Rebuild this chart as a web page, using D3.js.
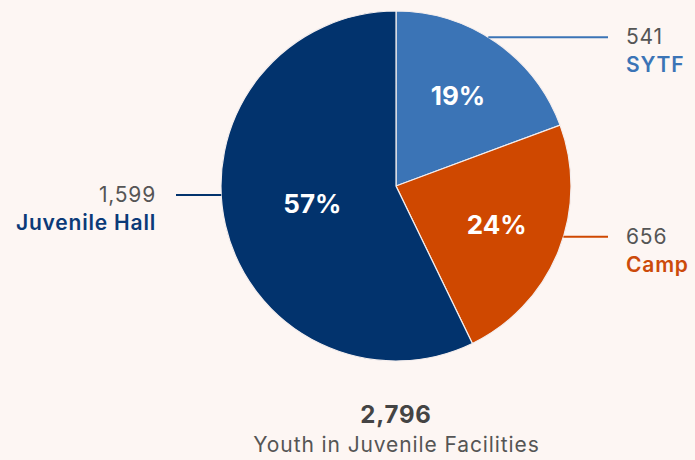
<html>
<script src="https://d3js.org/d3.v7.min.js"></script>
<style>
  body { margin: 0; background: #fdf6f3; }
  text { font-family: Inter, "Noto Sans", sans-serif; }
</style>
<body>
<svg id="chart" width="695" height="460"></svg>
<script>
// data
var categories = ["SYTF", "Camp", "Juvenile Hall"];
var counts = [541, 656, 1599];
var totalLabel = "Youth in Juvenile Facilities";

var colors = ["#3b74b6", "#cf4800", "#02336d"];
var textColors = ["#3b74b6", "#cc4a0a", "#0b3a78"];
// small angle nudges (degrees) for the callout lines
var calloutNudge = [-3, -5, 10];

var width = 695, height = 460;
var cx = 396, cy = 186, r = 175;
var svg = d3.select("#chart");

var total = d3.sum(counts);

// percentages with largest remainder rounding so they add to 100
var raw = counts.map(function(d){ return d / total * 100; });
var pct = raw.map(Math.floor);
var left = 100 - d3.sum(pct);
d3.range(raw.length).sort(function(a, b){ return (raw[b] - pct[b]) - (raw[a] - pct[a]); })
  .slice(0, left).forEach(function(i){ pct[i] += 1; });

var slices = d3.pie().sort(null).value(function(d){ return d; })(counts);
var arc = d3.arc().innerRadius(0).outerRadius(r);

var g = svg.append("g").attr("transform", "translate(" + cx + "," + cy + ")");

g.selectAll("path").data(slices).enter().append("path")
  .attr("d", arc)
  .attr("fill", function(d, i){ return colors[i]; })
  .attr("stroke", "#f4eeee")
  .attr("stroke-width", 1.2);

// percent labels
g.selectAll("text.pct").data(slices).enter().append("text")
  .attr("class", "pct")
  .attr("transform", function(d){
    var mid = (d.startAngle + d.endAngle) / 2;
    var share = d.value / total;
    var lr = share > 0.5 ? r * 0.49 : r * 0.62;
    return "translate(" + (Math.sin(mid) * lr) + "," + (-Math.cos(mid) * lr) + ")";
  })
  .attr("text-anchor", "middle")
  .attr("dy", "0.3em")
  .attr("fill", "white")
  .style("font-size", "26px")
  .style("font-weight", 700)
  .text(function(d, i){ return pct[i] + "%"; });

// callouts
var fmt = d3.format(",");
slices.forEach(function(d, i){
  var a = (d.startAngle + d.endAngle) / 2 + calloutNudge[i] * Math.PI / 180;
  var px = cx + Math.sin(a) * r, py = cy - Math.cos(a) * r;
  var right = Math.sin(a) > 0;
  var x2 = right ? 608 : 176;
  var tx = right ? 626 : 156;
  svg.append("line")
    .attr("x1", px).attr("y1", py).attr("x2", x2).attr("y2", py)
    .attr("stroke", colors[i]).attr("stroke-width", 2);
  svg.append("text")
    .attr("x", tx).attr("y", py + 7)
    .attr("text-anchor", right ? "start" : "end")
    .attr("fill", "#555")
    .style("font-size", "21px")
    .style("letter-spacing", "0.8px")
    .text(fmt(counts[i]));
  svg.append("text")
    .attr("x", tx).attr("y", py + 35)
    .attr("text-anchor", right ? "start" : "end")
    .attr("fill", textColors[i])
    .style("font-size", "21px")
    .style("font-weight", 600)
    .style("letter-spacing", "0.8px")
    .text(categories[i]);
});

// total
svg.append("text")
  .attr("x", cx).attr("y", 423)
  .attr("text-anchor", "middle")
  .attr("fill", "#444")
  .style("font-size", "24px")
  .style("font-weight", 700)
  .style("letter-spacing", "0.8px")
  .text(fmt(total));
svg.append("text")
  .attr("x", cx + 0.5).attr("y", 452)
  .attr("text-anchor", "middle")
  .attr("fill", "#555")
  .style("font-size", "21px")
  .style("letter-spacing", "0.9px")
  .text(totalLabel);
</script>
</body>
</html>
